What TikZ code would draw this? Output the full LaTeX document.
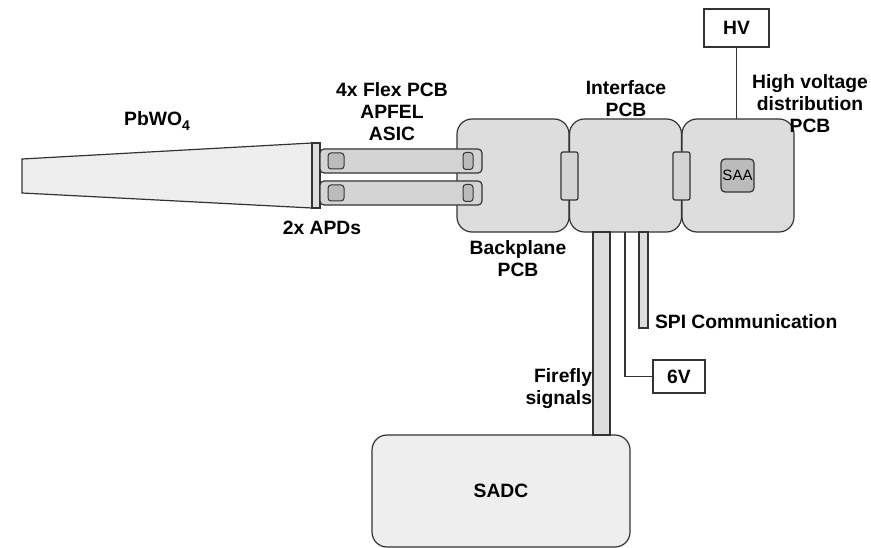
\documentclass[tikz,border=0pt]{standalone}
\usepackage{fontspec}
\setmainfont{Liberation Sans}
\definecolor{edge}{HTML}{333333}
\definecolor{boardfill}{HTML}{DDDDDD}
\definecolor{flexfill}{HTML}{D4D4D4}
\definecolor{padfill}{HTML}{BBBBBB}
\definecolor{lightfill}{HTML}{EEEEEE}
\begin{document}
\begin{tikzpicture}[x=1pt,y=-1pt,
  every node/.style={inner sep=0pt,outer sep=0pt},
  lbl/.style={font=\fontsize{19.3}{22}\selectfont\bfseries,align=center},
  board/.style={draw=edge,line width=1.2pt,fill=boardfill,rounded corners=15pt,minimum width=112pt,minimum height=113pt},
  flex/.style={draw=edge,line width=1.2pt,fill=flexfill,rounded corners=4pt,minimum width=162pt,minimum height=24pt},
  pad/.style={draw=edge,line width=1pt,fill=padfill,rounded corners=3pt},
  plug/.style={draw=edge,line width=1.2pt,fill=flexfill,rounded corners=2pt,minimum width=17pt,minimum height=48pt},
  supply/.style={draw=edge,line width=1.2pt,fill=white,lbl},
  cable/.style={draw=edge,line width=1.2pt,fill=boardfill}]
\useasboundingbox (0,0) rectangle (871,548);
% crystal with the two APDs
\draw[edge,line width=1.2pt,fill=lightfill] (22,159) -- (312,143) -- (312,208) -- (22,193) -- cycle;
\draw[edge,line width=1.2pt,fill=boardfill] (312,143) rectangle (320,208);
\node[lbl] (pbwo) at (157,121) {PbWO\raisebox{-5pt}{\fontsize{14}{14}\selectfont 4}};
\node[lbl] (apds) at (322,228) {2x APDs};
% boards
\node[board] (backplane) at (513,175.5) {};
\node[board] (interface) at (625.5,175.5) {};
\node[board] (hvpcb) at (738,175.5) {};
% flex PCBs
\node[flex] (flextop) at (401,161) {};
\node[flex] (flexbot) at (401,193) {};
\foreach \f in {flextop,flexbot} {
  \node[pad,minimum width=16pt,minimum height=16pt] at ([xshift=16pt]\f.west) {};
  \node[pad,minimum width=10pt,minimum height=17pt] at ([xshift=-14pt]\f.east) {};
}
\node[lbl] (flexlbl) at (392,112) {4x Flex PCB\\APFEL\\ASIC};
% board to board plugs
\node[plug] (plugA) at (569.5,176) {};
\node[plug] (plugB) at (681.5,176) {};
\node[pad,line width=1.2pt,rounded corners=4pt,minimum width=33pt,minimum height=33pt,font=\fontsize{15}{15}\selectfont] (saa) at (737.5,175.5) {SAA};
\node[lbl] (backlbl) at (518,258.5) {Backplane\\PCB};
\node[lbl] (interlbl) at (626,98.5) {Interface\\PCB};
\node[lbl] (hvlbl) at (810,104) {High voltage\\distribution\\PCB};
% supplies
\node[supply,minimum width=65pt,minimum height=38pt] (hv) at (736.5,28) {HV};
\node[supply,minimum width=52pt,minimum height=33pt] (sixv) at (679,376.5) {6V};
\draw[edge,line width=1.2pt] (hv.south) -- (hv.south |- hvpcb.north);
% readout
\node[draw=edge,line width=1.2pt,fill=lightfill,rounded corners=15pt,minimum width=258pt,minimum height=112pt,lbl] (sadc) at (501,491) {SADC};
\coordinate (fftop) at (593,232);
\coordinate (ffbot) at (610,435);
\coordinate (spitop) at (639,232);
\coordinate (spibot) at (648,328);
\coordinate (sixvtop) at (625,232);
\draw[cable] (fftop) rectangle (ffbot);
\draw[cable] (spitop) rectangle (spibot);
\draw[edge,line width=1.2pt] (sixvtop) |- (sixv.west);
\node[lbl,anchor=west] (spilbl) at (655,322) {SPI Communication};
\node[lbl,align=right,anchor=east] (fflbl) at (592,388.5) {Firefly\\signals};
\end{tikzpicture}
\end{document}
